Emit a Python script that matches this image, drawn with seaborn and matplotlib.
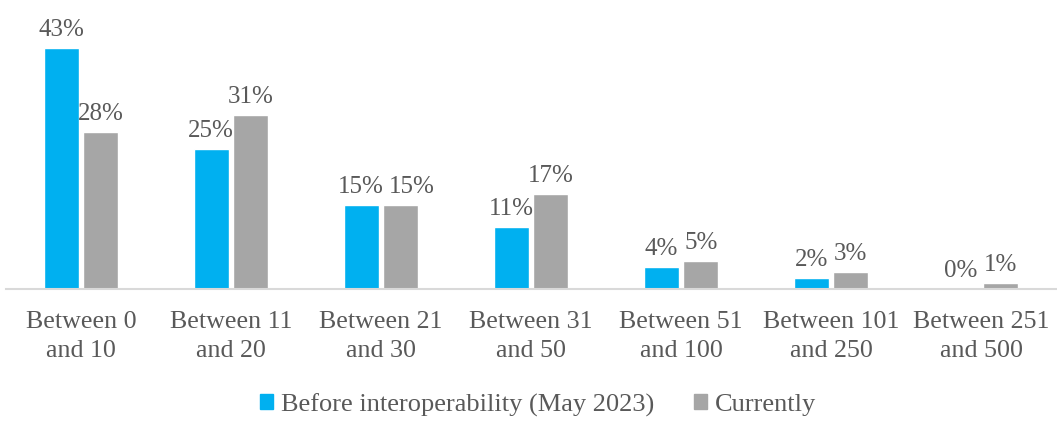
import pandas as pd
import matplotlib.pyplot as plt
import seaborn as sns

# Share of users by number of contacts, before and after interoperability
categories = ["Between 0\nand 10", "Between 11\nand 20", "Between 21\nand 30",
              "Between 31\nand 50", "Between 51\nand 100", "Between 101\nand 250",
              "Between 251\nand 500"]
before = [43, 25, 15, 11, 4, 2, 0]
currently = [28, 31, 15, 17, 5, 3, 1]
series = ["Before interoperability (May 2023)", "Currently"]

df = pd.DataFrame({
    "category": categories * 2,
    "value": before + currently,
    "series": [series[0]] * len(categories) + [series[1]] * len(categories),
})

sns.set_style("white")
plt.rcParams["font.family"] = ["Liberation Serif", "DejaVu Serif"]
text_color = "#595959"
colors = ["#00B0F0", "#A6A6A6"]

W, H = 1057, 421
fig = plt.figure(figsize=(W / 100, H / 100), dpi=100)
ax = fig.add_axes([6 / W, 132 / H, 1050 / W, 280 / H])

sns.barplot(data=df, x="category", y="value", hue="series",
            palette=colors, saturation=1, width=0.53, gap=0.12,
            order=categories, hue_order=series, ax=ax, legend=False)

for i, cont in enumerate(ax.containers):
    anns = ax.bar_label(cont, labels=[f"{v:.0f}%" for v in cont.datavalues],
                        padding=5, fontsize=18, color=text_color)
    # nudge labels apart where the two bars have the same height (like Excel does)
    if i == 1:
        for j, ann in enumerate(anns):
            if before[j] == currently[j]:
                ann.xyann = (8, 5)

ax.set_ylim(0, 50)
ax.set_xlim(-0.5, len(categories) - 0.5)
ax.set_xlabel("")
ax.set_ylabel("")
ax.set_yticks([])
ax.tick_params(axis="x", length=0, pad=16, labelsize=18.7, labelcolor=text_color)
for lbl in ax.get_xticklabels():
    lbl.set_linespacing(1.42)

sns.despine(ax=ax, left=True)
ax.spines["bottom"].set_color("#D9D9D9")
ax.spines["bottom"].set_linewidth(1.5)

handles = [plt.Rectangle((0, 0), 1, 1, color=c) for c in colors]
fig.legend(handles, series, loc="center", bbox_to_anchor=(538 / W, 1 - 405 / H),
           ncol=2, frameon=False, fontsize=19, labelcolor=text_color,
           handlelength=0.5, handleheight=0.5, handletextpad=0.3, columnspacing=1.5)

fig.savefig("out.png", dpi=100)
